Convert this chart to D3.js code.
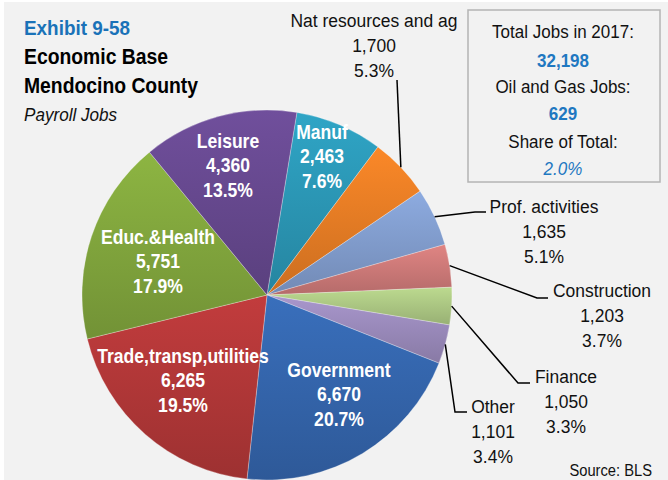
<!DOCTYPE html>
<html>
<head>
<meta charset="utf-8">
<script src="https://cdn.jsdelivr.net/npm/d3@7"></script>
<style>
  body { margin: 0; background: #fff; }
  text { font-family: "Liberation Sans", Arial, sans-serif; }
</style>
</head>
<body>
<svg id="chart"></svg>
<script>
const sectors = ["Manuf", "Nat resources and ag", "Prof. activities", "Construction", "Finance",
                 "Other", "Government", "Trade,transp,utilities", "Educ.&Health", "Leisure"];
const jobs = [2463, 1700, 1635, 1203, 1050, 1101, 6670, 6265, 5751, 4360];
const sectorColors = ["#2d9cbc", "#ee8126", "#86a2d4", "#d47e7c", "#b2cf88",
                      "#a08fc2", "#3669b2", "#b8393a", "#86ac3f", "#6a4b94"];
const oilGasJobs = 629;
const totalYear = 2017;

const width = 668, height = 480;
const cx = 267, cy = 295, R = 185;
const startDeg = 9.3;

const svg = d3.select("#chart").attr("width", width).attr("height", height);

// grey page
svg.append("rect").attr("x", 4).attr("y", 2).attr("width", width - 4).attr("height", height - 2)
  .attr("fill", "#f2f2f2");

const total = d3.sum(jobs);
const fmtInt = d3.format(",");
const fmtPct = d3.format(".1%");

const data = sectors.map((s, i) => ({ name: s, value: jobs[i], color: sectorColors[i] }));

const pie = d3.pie().sort(null).value(d => d.value)
  .startAngle(startDeg * Math.PI / 180)
  .endAngle(startDeg * Math.PI / 180 + 2 * Math.PI);
const arcs = pie(data);
const arc = d3.arc().innerRadius(0).outerRadius(R);

// vertical gradient per slice, lighter on top
const defs = svg.append("defs");
data.forEach((d, i) => {
  const g = defs.append("linearGradient").attr("id", "grad" + i)
    .attr("x1", 0).attr("y1", 0).attr("x2", 0).attr("y2", 1);
  g.append("stop").attr("offset", "0%").attr("stop-color", d3.color(d.color).brighter(0.15));
  g.append("stop").attr("offset", "100%").attr("stop-color", d3.color(d.color).darker(0.45));
});

const gPie = svg.append("g").attr("transform", `translate(${cx},${cy})`);
gPie.selectAll("path")
  .data(arcs)
  .join("path")
  .attr("d", arc)
  .attr("fill", (d, i) => `url(#grad${i})`)
  .attr("stroke", "rgba(255,255,255,0.35)")
  .attr("stroke-width", 0.8);

// inside labels: centre x and first baseline
const inside = {
  "Manuf": [322, 139],
  "Government": [339, 377],
  "Trade,transp,utilities": [183, 363],
  "Educ.&Health": [158, 244],
  "Leisure": [228, 148]
};

const midAngle = d => (d.startAngle + d.endAngle) / 2;

arcs.filter(d => inside[d.data.name]).forEach(d => {
  const [x, y] = inside[d.data.name];
  const g = svg.append("g").attr("transform", `translate(${x},${y}) scale(0.9,1)`);
  [d.data.name, fmtInt(d.data.value), fmtPct(d.data.value / total)].forEach((t, k) => {
    g.append("text")
      .attr("text-anchor", "middle")
      .attr("y", k * 24.5)
      .attr("fill", "#fff")
      .attr("font-weight", "bold")
      .attr("font-size", 19.5)
      .text(t);
  });
});

// outside labels with leader lines
const outside = {
  "Nat resources and ag": { elbow: [397, 80], end: [397, 80], tx: 374, ty: 27 },
  "Prof. activities": { elbow: [475, 212], end: [486, 212], tx: 544, ty: 213 },
  "Construction": { elbow: [537, 298], end: [548, 298], tx: 602, ty: 297 },
  "Finance": { elbow: [518, 383], end: [530, 383], tx: 566, ty: 383 },
  "Other": { elbow: [455, 412], end: [467, 412], tx: 493, ty: 413 }
};

arcs.filter(d => outside[d.data.name]).forEach(d => {
  const cfg = outside[d.data.name];
  const a = midAngle(d);
  const px = cx + Math.sin(a) * R, py = cy - Math.cos(a) * R;
  svg.append("path")
    .attr("d", d3.line()([[px, py], cfg.elbow, cfg.end]))
    .attr("fill", "none")
    .attr("stroke", "#000")
    .attr("stroke-width", 1.5);
  const g = svg.append("g").attr("transform", `translate(${cfg.tx},${cfg.ty}) scale(0.92,1)`);
  [d.data.name, fmtInt(d.data.value), fmtPct(d.data.value / total)].forEach((t, k) => {
    g.append("text")
      .attr("text-anchor", "middle")
      .attr("y", k * 25)
      .attr("fill", "#111")
      .attr("font-size", 19)
      .text(t);
  });
});

// title block
const titleLines = [
  { t: "Exhibit 9-58", y: 35, fill: "#1a72b8", weight: "bold", style: "normal", size: 21 },
  { t: "Economic Base", y: 64, fill: "#000", weight: "bold", style: "normal", size: 21.5 },
  { t: "Mendocino County", y: 93, fill: "#000", weight: "bold", style: "normal", size: 21.5 },
  { t: "Payroll Jobs", y: 121, fill: "#111", weight: "normal", style: "italic", size: 19 }
];
titleLines.forEach(l => {
  svg.append("text")
    .attr("transform", `translate(24,${l.y}) scale(0.9,1)`)
    .attr("fill", l.fill)
    .attr("font-weight", l.weight)
    .attr("font-style", l.style)
    .attr("font-size", l.size)
    .text(l.t);
});

// summary box
svg.append("rect")
  .attr("x", 468).attr("y", 10).attr("width", 192).attr("height", 172)
  .attr("fill", "#f2f2f2").attr("stroke", "#b4b4b4").attr("stroke-width", 1.5);

const boxLines = [
  { t: `Total Jobs in ${totalYear}:`, y: 38, fill: "#111", weight: "normal", style: "normal" },
  { t: fmtInt(total), y: 67, fill: "#1f78c1", weight: "bold", style: "normal" },
  { t: "Oil and Gas Jobs:", y: 93, fill: "#111", weight: "normal", style: "normal" },
  { t: fmtInt(oilGasJobs), y: 120, fill: "#1f78c1", weight: "bold", style: "normal" },
  { t: "Share of Total:", y: 148, fill: "#111", weight: "normal", style: "normal" },
  { t: fmtPct(oilGasJobs / total), y: 175, fill: "#1f78c1", weight: "normal", style: "italic" }
];
boxLines.forEach(l => {
  svg.append("text")
    .attr("transform", `translate(563,${l.y}) scale(0.92,1)`)
    .attr("text-anchor", "middle")
    .attr("fill", l.fill)
    .attr("font-weight", l.weight)
    .attr("font-style", l.style)
    .attr("font-size", 18.5)
    .text(l.t);
});

svg.append("text")
  .attr("transform", "translate(652,476) scale(0.92,1)")
  .attr("text-anchor", "end")
  .attr("fill", "#111")
  .attr("font-size", 16)
  .text("Source: BLS");
</script>
</body>
</html>
